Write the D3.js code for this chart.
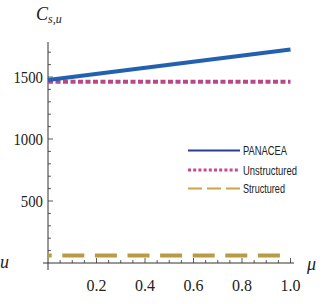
<!DOCTYPE html>
<html><head><meta charset="utf-8">
<script src="https://cdn.jsdelivr.net/npm/d3@7"></script>
<style>body{margin:0;background:#fff}svg{display:block}</style>
</head><body>
<script>
const muValues = [0, 1];
const panacea = [1475, 1722];
const unstructured = [1462, 1462];
const structured = [60, 60];
const seriesNames = ["PANACEA", "Unstructured", "Structured"];
const xTicks = [0.2, 0.4, 0.6, 0.8, 1.0];
const yTicks = [500, 1000, 1500];

const W = 328, H = 304;
const svg = d3.select("body").append("svg").attr("width", W).attr("height", H);
const x = d3.scaleLinear().domain([0, 1]).range([48, 290.5]);
const y = d3.scaleLinear().domain([0, 1500]).range([263, 77]);
const serif = "'Liberation Serif','Times New Roman',serif";

// axes lines
svg.append("line").attr("x1", 43).attr("x2", 294).attr("y1", y(0)).attr("y2", y(0)).attr("stroke", "#333").attr("stroke-width", 1);
svg.append("line").attr("x1", x(0)).attr("x2", x(0)).attr("y1", 42).attr("y2", 270).attr("stroke", "#333").attr("stroke-width", 1);

// x ticks
const xMinor = d3.range(0.05, 1.001, 0.05);
xMinor.forEach(v => {
  const major = xTicks.some(t => Math.abs(t - v) < 1e-6);
  svg.append("line").attr("x1", x(v)).attr("x2", x(v)).attr("y1", y(0)).attr("y2", y(0) - (major ? 5 : 3)).attr("stroke", "#333").attr("stroke-width", 0.8);
});
xTicks.forEach(v => {
  svg.append("text").attr("x", x(v)).attr("y", 291).attr("text-anchor", "middle")
    .attr("font-family", serif).attr("font-size", 17).attr("fill", "#222")
    .attr("textLength", 20).attr("lengthAdjust", "spacingAndGlyphs").text(v.toFixed(1));
});
// y ticks
const yMinor = d3.range(100, 1801, 100).filter(v => y(v) >= 44);
yMinor.forEach(v => {
  const major = yTicks.includes(v);
  svg.append("line").attr("x1", x(0)).attr("x2", x(0) + (major ? 5 : 3)).attr("y1", y(v)).attr("y2", y(v)).attr("stroke", "#333").attr("stroke-width", 0.8);
});
yTicks.forEach(v => {
  const s = String(v);
  svg.append("text").attr("x", 43).attr("y", y(v) + 6).attr("text-anchor", "end")
    .attr("font-family", serif).attr("font-size", 17).attr("fill", "#222")
    .attr("textLength", s.length * 7.4).attr("lengthAdjust", "spacingAndGlyphs").text(s);
});

// axis labels
const cl = svg.append("text").attr("x", 36).attr("y", 20).attr("font-family", serif).attr("font-style", "italic").attr("font-size", 18).attr("fill", "#222");
cl.append("tspan").text("C");
cl.append("tspan").attr("font-size", 12).attr("dy", 3).text("s,u");
svg.append("text").attr("x", 307).attr("y", 270).attr("font-family", serif).attr("font-style", "italic").attr("font-size", 18).attr("fill", "#222").text("μ");
svg.append("text").attr("x", 0).attr("y", 268).attr("font-family", serif).attr("font-style", "italic").attr("font-size", 18).attr("fill", "#222").text("u");

// series
const line = d3.line().x((d, i) => x(muValues[i])).y(d => y(d));
svg.append("path").datum(structured).attr("d", line).attr("fill", "none").attr("stroke", "#b99b45").attr("stroke-width", 4).attr("stroke-dasharray", "22,10.6").attr("stroke-dashoffset", 18.3);
svg.append("path").datum(unstructured).attr("d", line).attr("fill", "none").attr("stroke", "#b9478b").attr("stroke-width", 4).attr("stroke-dasharray", "5,2.5");
svg.append("path").datum(panacea).attr("d", line).attr("fill", "none").attr("stroke", "#2260b0").attr("stroke-width", 4);

// legend
const leg = [
  {c: "#2b3a9c", w: 2, dash: null},
  {c: "#c8488f", w: 3, dash: "3,2.2"},
  {c: "#cfa448", w: 2, dash: "14,5"}
];
const ly = [150.5, 170, 188.5];
seriesNames.forEach((n, i) => {
  svg.append("line").attr("x1", 188).attr("x2", 240).attr("y1", ly[i]).attr("y2", ly[i]).attr("stroke", leg[i].c).attr("stroke-width", leg[i].w).attr("stroke-dasharray", leg[i].dash);
  svg.append("text").attr("x", 243).attr("y", ly[i] + 4.5).attr("font-family", "'Liberation Sans',Arial,sans-serif").attr("font-size", 13).attr("fill", "#222")
    .attr("textLength", [44, 54, 42][i]).attr("lengthAdjust", "spacingAndGlyphs").text(n);
});
</script>
</body></html>
